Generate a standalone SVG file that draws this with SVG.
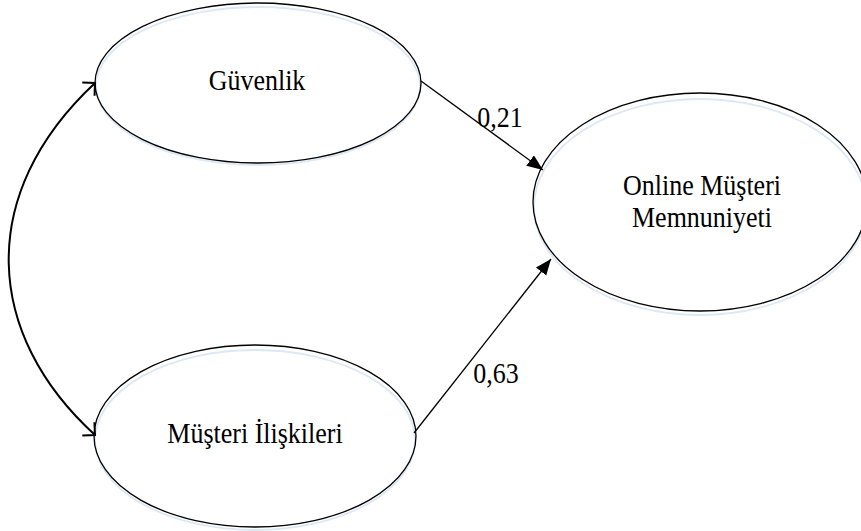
<svg xmlns="http://www.w3.org/2000/svg" width="861" height="531" viewBox="0 0 861 531">
<style>
.node{fill:none;stroke:#000;stroke-width:1.3}
.shadow{fill:#fff;stroke:#dce8f6;stroke-width:1.8}
.lbl{font-family:"Liberation Serif","Times New Roman",serif;font-size:26px;fill:#000;text-anchor:middle}
.path{fill:none;stroke:#000;stroke-width:1.3}
.cov{fill:none;stroke:#000;stroke-width:2}
</style>
<defs>
<marker id="fa" markerUnits="userSpaceOnUse" markerWidth="18" markerHeight="14" refX="16" refY="6.5" orient="auto" viewBox="0 0 18 14">
<path d="M0,0 L16,6.5 L0,13 z" fill="#000"/>
</marker>
<marker id="oa" markerUnits="userSpaceOnUse" markerWidth="14" markerHeight="22" refX="10" refY="10" orient="auto-start-reverse" viewBox="0 0 14 22">
<path d="M1,1 L10,10 L1,19" fill="none" stroke="#000" stroke-width="2"/>
</marker>
</defs>
<rect width="861" height="531" fill="#fff"/>
<g id="guvenlik">
<ellipse class="shadow" cx="258" cy="86" rx="162" ry="79"/>
<ellipse class="node" cx="258" cy="83" rx="163" ry="80"/>
<text class="lbl" font-family="Liberation Serif" transform="translate(257,90) scale(1,1.15)">Güvenlik</text>
</g>
<g id="online">
<ellipse class="shadow" cx="700" cy="207" rx="166" ry="108"/>
<ellipse class="node" cx="700" cy="202" rx="167" ry="109"/>
<text class="lbl" font-family="Liberation Serif" transform="translate(702,195) scale(1,1.15)">Online Müşteri</text>
<text class="lbl" font-family="Liberation Serif" transform="translate(702,227) scale(1,1.15)">Memnuniyeti</text>
</g>
<g id="musteri">
<ellipse class="shadow" cx="255" cy="440" rx="160" ry="90"/>
<ellipse class="node" cx="255" cy="436" rx="161" ry="91"/>
<text class="lbl" font-family="Liberation Serif" transform="translate(255,443) scale(1,1.15)">Müşteri İlişkileri</text>
</g>
<g id="connectors">
<line class="path" x1="421" y1="81" x2="543" y2="170" marker-end="url(#fa)"/>
<line class="path" x1="414" y1="433" x2="551" y2="259" marker-end="url(#fa)"/>
<path class="cov" d="M95,83 C-25,195 -15,335 95,435" marker-start="url(#oa)" marker-end="url(#oa)"/>
<text class="lbl" font-family="Liberation Serif" transform="translate(500,127) scale(1,1.15)">0,21</text>
<text class="lbl" font-family="Liberation Serif" transform="translate(496,383) scale(1,1.15)">0,63</text>
</g>
</svg>
